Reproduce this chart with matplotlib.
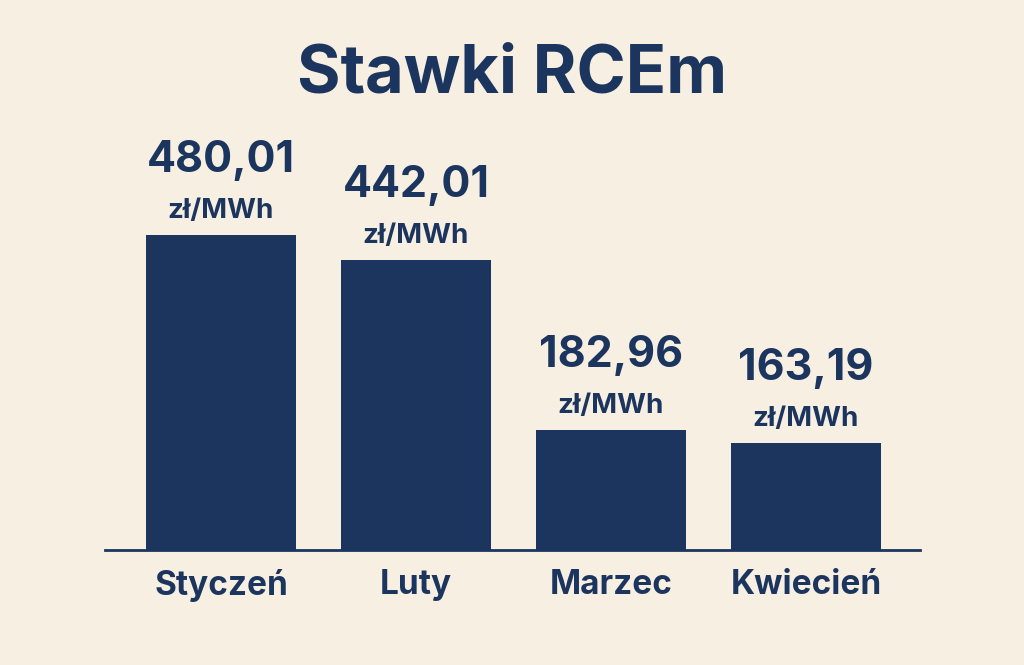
import matplotlib
matplotlib.use("Agg")
import matplotlib.pyplot as plt

months = ["Styczeń", "Luty", "Marzec", "Kwiecień"]
values = [480.01, 442.01, 182.96, 163.19]
unit = "zł/MWh"

bg = "#F7EFE1"
navy = "#1C355E"
plt.rcParams['font.family'] = ['Inter', 'DejaVu Sans']

fig = plt.figure(figsize=(10.24, 6.65), dpi=100, facecolor=bg)
ax = fig.add_axes([105/1024, 1-550/665, 815/1024, 400/665])
ax.set_facecolor(bg)
x = list(range(len(months)))
bars = ax.bar(x, values, width=0.77, color=navy)
ax.set_xlim(-0.595, 3.585)
ax.set_ylim(0, 609.5)
for b, v in zip(bars, values):
    cx = b.get_x() + b.get_width()/2
    ax.annotate(unit, (cx, v), xytext=(0, 8), textcoords="offset points",
                ha="center", va="bottom", fontsize=20, fontweight="bold", color=navy)
    ax.annotate(f"{v:.2f}".replace(".", ","), (cx, v), xytext=(0, 39), textcoords="offset points",
                ha="center", va="bottom", fontsize=31, fontweight="bold", color=navy)
for s in ["top", "left", "right"]:
    ax.spines[s].set_visible(False)
ax.spines["bottom"].set_color(navy)
ax.spines["bottom"].set_linewidth(2)
ax.set_yticks([])
ax.set_xticks(x)
ax.set_xticklabels(months, fontsize=24, fontweight="bold", color=navy)
ax.tick_params(axis="x", length=0, pad=14)
fig.text(0.5, 1-75/665, "Stawki RCEm", ha="center", va="center",
         fontsize=48, fontweight="bold", color=navy)
fig.savefig("out.png", dpi=100, facecolor=bg)
